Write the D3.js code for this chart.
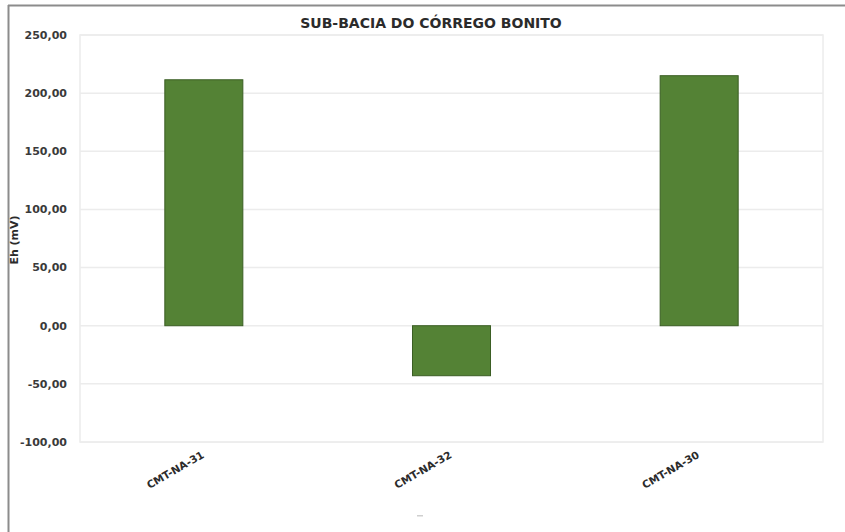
<!DOCTYPE html>
<html>
<head>
<meta charset="utf-8">
<script src="https://cdn.jsdelivr.net/npm/d3@7"></script>
<style>
  body { margin: 0; background: #fff; }
  svg { display: block; font-family: "DejaVu Sans", Verdana, sans-serif; }
</style>
</head>
<body>
<svg id="chart" width="845" height="532"></svg>
<script>
const categories = ["CMT-NA-31", "CMT-NA-32", "CMT-NA-30"];
const ehValues = [211.5, -43, 215];
const yTicks = [-100, -50, 0, 50, 100, 150, 200, 250];
const chartTitle = "SUB-BACIA DO CÓRREGO BONITO";
const yAxisTitle = "Eh (mV)";

const svg = d3.select("#chart");
const W = 845, H = 532;
const plot = { left: 80, right: 823, top: 35, bottom: 442 };

// outer frame (top and left edges visible)
svg.append("line").attr("x1", 8).attr("x2", W).attr("y1", 5.5).attr("y2", 5.5)
  .attr("stroke", "#8c8c8c").attr("stroke-width", 2);
svg.append("line").attr("x1", 8.5).attr("x2", 8.5).attr("y1", 5).attr("y2", H)
  .attr("stroke", "#8c8c8c").attr("stroke-width", 2);

const x = d3.scaleBand().domain(categories).range([plot.left, plot.right]).padding(0);
const y = d3.scaleLinear().domain([-100, 250]).range([plot.bottom, plot.top]);

// plot area border
svg.append("rect").attr("x", plot.left).attr("y", plot.top)
  .attr("width", plot.right - plot.left).attr("height", plot.bottom - plot.top)
  .attr("fill", "none").attr("stroke", "#ececec").attr("stroke-width", 1.5);

// gridlines
svg.append("g").selectAll("line").data(yTicks).join("line")
  .attr("x1", plot.left).attr("x2", plot.right)
  .attr("y1", d => y(d)).attr("y2", d => y(d))
  .attr("stroke", "#ececec").attr("stroke-width", 1.5);

// y axis labels
const fmt = v => d3.format(".2f")(v).replace(".", ",").replace("−", "-");
svg.append("g").selectAll("text").data(yTicks).join("text")
  .attr("x", 67).attr("y", d => y(d)).attr("dy", "0.35em")
  .attr("text-anchor", "end").attr("font-size", 11).attr("font-weight", "bold")
  .attr("fill", "#3a3a3a").text(d => fmt(d));

// bars
const barFrac = 0.315;
svg.append("g").selectAll("rect").data(categories).join("rect")
  .attr("x", d => x(d) + x.bandwidth() * (1 - barFrac) / 2)
  .attr("width", x.bandwidth() * barFrac)
  .attr("y", (d, i) => y(Math.max(0, ehValues[i])))
  .attr("height", (d, i) => Math.abs(y(ehValues[i]) - y(0)))
  .attr("fill", "#548235").attr("stroke", "#3b5e24").attr("stroke-width", 1);

// x labels
svg.append("g").selectAll("text").data(categories).join("text")
  .attr("transform", d => `translate(${x(d) + x.bandwidth() / 2 + 1},${plot.bottom + 15}) rotate(-30)`)
  .attr("text-anchor", "end").attr("font-size", 10.5).attr("font-weight", "bold")
  .attr("fill", "#2b2b2b").text(d => d);

// title
svg.append("text").attr("x", 431).attr("y", 28).attr("text-anchor", "middle")
  .attr("font-size", 14).attr("font-weight", "bold").attr("fill", "#2b2b2b").text(chartTitle);

// y axis title
svg.append("text").attr("transform", "translate(18,240) rotate(-90)")
  .attr("text-anchor", "middle").attr("font-size", 11).attr("font-weight", "bold")
  .attr("fill", "#2b2b2b").text(yAxisTitle);

// small legend remnant
svg.append("rect").attr("x", 417).attr("y", 515).attr("width", 6).attr("height", 1.5)
  .attr("fill", "#cfcfcf");
</script>
</body>
</html>
